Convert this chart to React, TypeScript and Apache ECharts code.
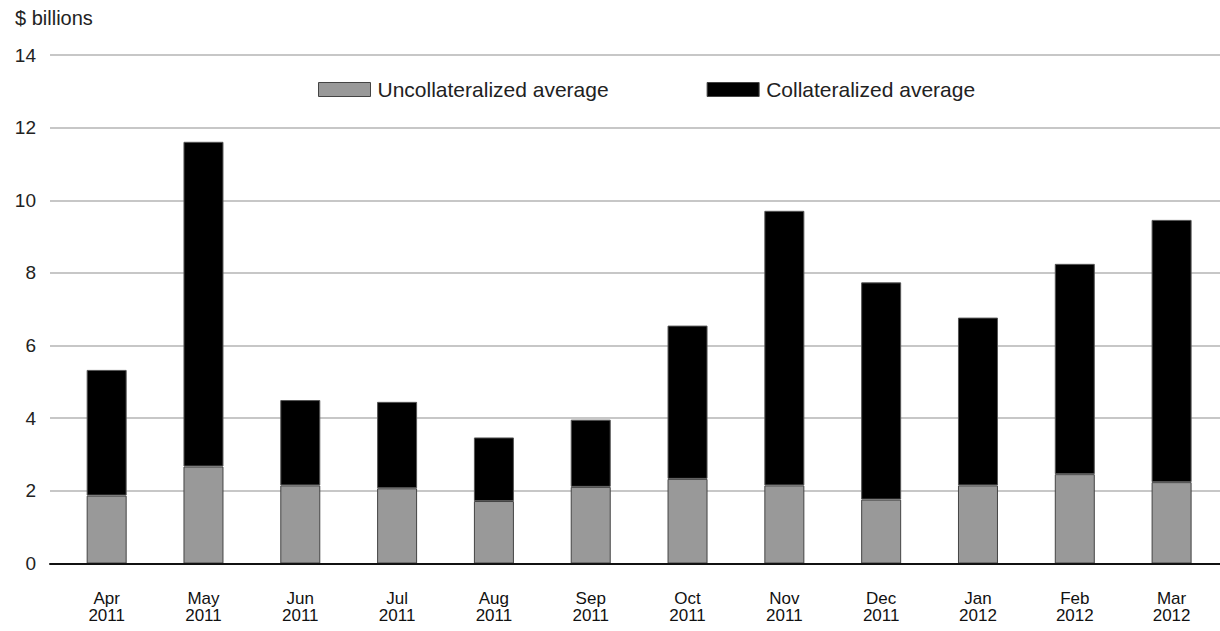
import React, { useEffect, useRef } from "react";
import * as echarts from "echarts";

const months = ["Apr", "May", "Jun", "Jul", "Aug", "Sep", "Oct", "Nov", "Dec", "Jan", "Feb", "Mar"];
const years = ["2011", "2011", "2011", "2011", "2011", "2011", "2011", "2011", "2011", "2012", "2012", "2012"];
const uncollateralized = [1.87, 2.67, 2.15, 2.07, 1.72, 2.11, 2.33, 2.15, 1.76, 2.15, 2.46, 2.24];
const collateralized = [3.46, 8.94, 2.35, 2.38, 1.75, 1.85, 4.22, 7.56, 5.98, 4.62, 5.79, 7.22];
const yTicks = [0, 2, 4, 6, 8, 10, 12, 14];

const FONT = "'Liberation Sans', Arial, Helvetica, sans-serif";

export default function App() {
  const ref = useRef<HTMLDivElement>(null);
  useEffect(() => {
    if (!ref.current) return;
    const chart = echarts.init(ref.current, null, { renderer: "svg" });
    const categories = months.map((m, i) => m + "\n" + years[i]);
    chart.setOption({
      animation: false,
      backgroundColor: "#ffffff",
      textStyle: { fontFamily: FONT },
      graphic: [
        {
          type: "text",
          left: 15,
          top: 8,
          style: { text: "$ billions", font: `20px ${FONT}`, fill: "#222" },
        },
      ],
      legend: {
        left: 318,
        top: 79,
        padding: 0,
        itemGap: 98,
        itemWidth: 52,
        itemHeight: 14,
        icon: "rect",
        textStyle: { fontSize: 21, color: "#222", fontFamily: FONT, padding: [0, 0, 0, 2] },
        data: [
          { name: "Uncollateralized average", itemStyle: { color: "#999999", borderColor: "#444", borderWidth: 1 } },
          { name: "Collateralized average", itemStyle: { color: "#000000", borderColor: "#444", borderWidth: 1 } },
        ],
      },
      grid: [
        { left: 50, right: 0, top: 55, bottom: 67.5, containLabel: false },
        { left: 58.25, width: 1170, top: 55, bottom: 67.5, containLabel: false },
      ],
      xAxis: [
        {
          type: "category",
          gridIndex: 0,
          data: categories,
          axisLine: { show: true, lineStyle: { color: "#111", width: 2 } },
          axisTick: { show: false },
          axisLabel: { show: false },
          splitLine: { show: false },
          z: 5,
        },
        {
          type: "category",
          gridIndex: 1,
          data: categories,
          axisLine: { show: false },
          axisTick: { show: false },
          axisLabel: {
            color: "#111",
            fontSize: 17,
            lineHeight: 17,
            margin: 26,
            fontFamily: FONT,
            interval: 0,
          },
        },
      ],
      yAxis: [
        {
          type: "value",
          gridIndex: 0,
          min: 0,
          max: 14,
          interval: 2,
          axisLine: { show: false },
          axisTick: { show: false },
          axisLabel: {
            color: "#222",
            fontSize: 19,
            margin: 14,
            fontFamily: FONT,
            formatter: (v: number) => (yTicks.includes(v) ? String(v) : ""),
          },
          splitLine: { show: true, lineStyle: { color: "#b5b5b5", width: 1.5 } },
        },
        {
          type: "value",
          gridIndex: 1,
          min: 0,
          max: 14,
          interval: 2,
          show: false,
          splitLine: { show: false },
        },
      ],
      series: [
        {
          name: "Uncollateralized average",
          type: "bar",
          stack: "total",
          xAxisIndex: 1,
          yAxisIndex: 1,
          barWidth: 40,
          data: uncollateralized,
          itemStyle: { color: "#999999", borderColor: "#444", borderWidth: 1 },
        },
        {
          name: "Collateralized average",
          type: "bar",
          stack: "total",
          xAxisIndex: 1,
          yAxisIndex: 1,
          barWidth: 40,
          data: collateralized,
          itemStyle: { color: "#000000", borderColor: "#555", borderWidth: 1 },
        },
      ],
    });
    return () => chart.dispose();
  }, []);
  return (
    <div
      ref={ref}
      style={{ position: "fixed", left: 0, top: 0, width: 1220, height: 631, background: "#fff" }}
    />
  );
}
